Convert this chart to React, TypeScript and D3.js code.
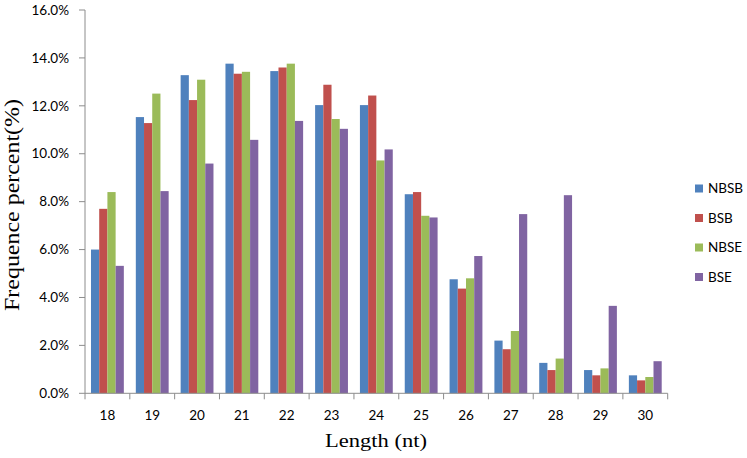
import React from "react";
import * as d3 from "d3";

const categories = ["18", "19", "20", "21", "22", "23", "24", "25", "26", "27", "28", "29", "30"];
const seriesNames = ["NBSB", "BSB", "NBSE", "BSE"];
const NBSB = [6.0, 11.53, 13.28, 13.76, 13.45, 12.03, 12.03, 8.31, 4.76, 2.2, 1.27, 0.97, 0.75];
const BSB = [7.7, 11.28, 12.24, 13.34, 13.6, 12.88, 12.43, 8.4, 4.37, 1.84, 0.97, 0.75, 0.54];
const NBSE = [8.4, 12.51, 13.09, 13.42, 13.76, 11.45, 9.72, 7.41, 4.8, 2.6, 1.45, 1.04, 0.68];
const BSE = [5.32, 8.44, 9.59, 10.58, 11.37, 11.04, 10.18, 7.34, 5.73, 7.48, 8.27, 3.65, 1.34];
const yTicks = [0, 2, 4, 6, 8, 10, 12, 14, 16];
const colors = ["#4F81BD", "#C0504D", "#9BBB59", "#8064A2"];

const seriesValues = [NBSB, BSB, NBSE, BSE];

export default function App() {
  const W = 747, H = 458;
  const left = 85, right = 667.7, top = 10, bottom = 393.3;
  const x = d3.scaleBand<string>().domain(categories).range([left, right]).padding(0);
  const inner = d3.scaleBand<string>().domain(seriesNames).range([0, x.step()]).paddingInner(0).paddingOuter(0.73);
  const y = d3.scaleLinear().domain([0, 16]).range([bottom, top]);
  const axisColor = "#8c8c8c";
  const sans = "Lato, 'Open Sans', sans-serif";
  const serif = "'Liberation Serif', 'DejaVu Serif', serif";
  const boundaries = d3.range(categories.length + 1).map((i) => left + i * x.step());

  return (
    <svg width={W} height={H} style={{ position: "absolute", left: 0, top: 0, background: "#fff" }}>
      {seriesValues.map((vals, si) =>
        vals.map((v, ci) => (
          <rect
            key={`${si}-${ci}`}
            x={(x(categories[ci]) as number) + (inner(seriesNames[si]) as number)}
            y={y(v)}
            width={inner.bandwidth()}
            height={bottom - y(v)}
            fill={colors[si]}
          />
        ))
      )}
      {/* y axis */}
      <line x1={left} x2={left} y1={top} y2={bottom} stroke={axisColor} strokeWidth={1} />
      {yTicks.map((t) => (
        <g key={t}>
          <line x1={left - 6} x2={left} y1={y(t)} y2={y(t)} stroke={axisColor} />
          <text x={69} y={y(t)} dy="0.35em" textAnchor="end" fontFamily={sans} fontSize={13.5} fill="#000">
            {t.toFixed(1) + "%"}
          </text>
        </g>
      ))}
      {/* x axis */}
      <line x1={left} x2={right} y1={bottom} y2={bottom} stroke={axisColor} />
      {boundaries.map((b, i) => (
        <line key={i} x1={b} x2={b} y1={bottom} y2={bottom + 6} stroke={axisColor} />
      ))}
      {categories.map((c) => (
        <text
          key={c}
          x={(x(c) as number) + x.bandwidth() / 2}
          y={419.5}
          textAnchor="middle"
          fontFamily={sans}
          fontSize={13.5}
          fill="#000"
        >
          {c}
        </text>
      ))}
      <text x={376} y={447} textAnchor="middle" fontFamily={serif} fontSize={19} textLength={102} lengthAdjust="spacingAndGlyphs" fill="#000">
        Length (nt)
      </text>
      <text
        transform="translate(19,205) rotate(-90)"
        textAnchor="middle"
        fontFamily={serif}
        fontSize={20}
        textLength={212}
        lengthAdjust="spacingAndGlyphs"
        fill="#000"
      >
        Frequence percent(%)
      </text>
      {/* legend */}
      {seriesNames.map((s, i) => {
        const cy = 188.5 + i * 29.5;
        return (
          <g key={s}>
            <rect x={695} y={cy - 4} width={8} height={8} fill={colors[i]} />
            <text x={708} y={cy} dy="0.35em" fontFamily={sans} fontSize={13.5} fill="#000">
              {s}
            </text>
          </g>
        );
      })}
    </svg>
  );
}
